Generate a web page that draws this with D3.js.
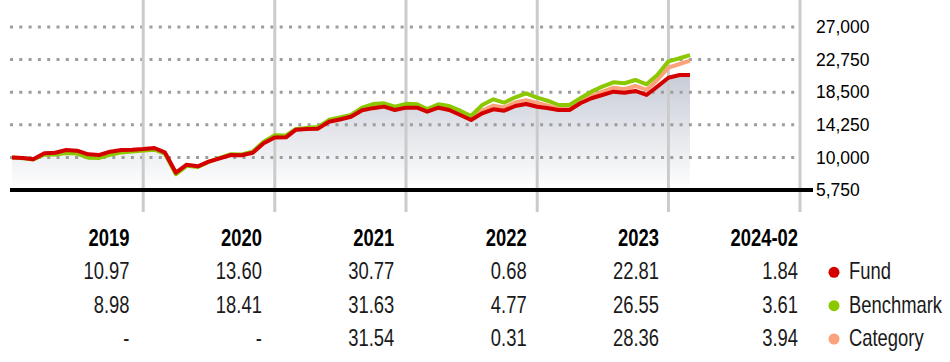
<!DOCTYPE html>
<html>
<head>
<meta charset="utf-8">
<script src="https://cdn.jsdelivr.net/npm/d3@7"></script>
<style>
  body { margin: 0; background: #fff; }
  svg { display: block; }
  text { font-family: "Liberation Sans", Arial, sans-serif; }
</style>
</head>
<body>
<svg width="950" height="362"></svg>
<script>
// growth of 10,000 - monthly points, first point = start of 2019
var fundValues = [10000, 9922, 9760, 10535, 10613, 10965, 10874, 10404, 10313, 10743, 10965, 11004,
    11097, 11226, 10665, 8005, 9048, 8839, 9439, 9883, 10313, 10274, 10613, 11839,
    12606, 12620, 13620, 13700, 13750, 14650, 14950, 15300, 16150, 16420, 16620, 16181,
    16485, 16481, 15959, 16481, 16181, 15529, 14877, 15751, 16272, 16090, 16703, 16963,
    16597, 16403, 16181, 16181, 17055, 17707, 18137, 18567, 18437, 18659, 18137, 19219,
    20383, 20745, 20758];
var benchmarkValues = [10000, 9900, 9740, 10350, 10380, 10560, 10500, 9960, 9930, 10330, 10650, 10760,
    10898, 11000, 10500, 7800, 8900, 8750, 9420, 9950, 10420, 10380, 10760, 12050,
    12904, 12850, 13700, 13850, 13950, 14900, 15200, 15530, 16500, 16950, 17050, 16600,
    16986, 16924, 16311, 16924, 16703, 16090, 15399, 16833, 17576, 17133, 17837, 18359,
    17796, 17355, 16833, 16833, 17707, 18567, 19219, 19793, 19663, 20093, 19532, 20745,
    22521, 22922, 23334];
var categoryValues = [null, null, null, null, null, null, null, null, null, null, null, null,
    null, null, null, null, null, null, null, null, null, null, null, null,
    12700, 12650, 13640, 13730, 13800, 14700, 15000, 15350, 16250, 16600, 16800, 16400,
    16850, 16780, 16150, 16750, 16450, 15750, 14950, 16100, 16750, 16500, 17150, 17450,
    17094, 16742, 16311, 16311, 17224, 18007, 18528, 19089, 18880, 19311, 18789, 20093,
    21700, 22179, 22610];

var yTicks = [5750, 10000, 14250, 18500, 22750, 27000];
var gridYears = [2020, 2021, 2022, 2023, 2024, 2025];

// calendar returns table
var periods = ['2019', '2020', '2021', '2022', '2023', '2024-02'];
var fundReturns = ['10.97', '13.60', '30.77', '0.68', '22.81', '1.84'];
var benchmarkReturns = ['8.98', '18.41', '31.63', '4.77', '26.55', '3.61'];
var categoryReturns = ['-', '-', '31.54', '0.31', '28.36', '3.94'];
var seriesNames = ['Fund', 'Benchmark', 'Category'];
var seriesColors = ['#d40000', '#8cc800', '#fca27a'];

var dates = d3.timeMonth.range(new Date(2019, 0, 1), new Date(2024, 2, 2));

var svg = d3.select('svg');

var xScale = d3.scaleTime()
    .domain([new Date(2019, 0, 1), new Date(2025, 0, 1)])
    .range([12, 800]);
var yScale = d3.scaleLinear()
    .domain([5750, 27000])
    .range([190, 27]);

// gradient for the area under the fund
var defs = svg.append('defs');
var grad = defs.append('linearGradient')
    .attr('id', 'areaGrad')
    .attr('gradientUnits', 'userSpaceOnUse')
    .attr('x1', 0).attr('x2', 0)
    .attr('y1', yScale(22000)).attr('y2', yScale(5750));
grad.append('stop').attr('offset', 0).attr('stop-color', '#c3c8d3');
grad.append('stop').attr('offset', 1).attr('stop-color', '#ffffff');

var area = d3.area()
    .x(function(d, i) { return xScale(dates[i]); })
    .y0(yScale(5750))
    .y1(function(d) { return yScale(d); });

svg.append('path')
    .datum(fundValues)
    .attr('d', area)
    .attr('fill', 'url(#areaGrad)');

// horizontal dotted gridlines
svg.append('g').selectAll('line')
    .data(yTicks.slice(1))
    .enter().append('line')
    .attr('x1', 10).attr('x2', 795)
    .attr('y1', function(d) { return yScale(d); })
    .attr('y2', function(d) { return yScale(d); })
    .attr('stroke', '#9d9d9d')
    .attr('stroke-width', 3)
    .attr('stroke-dasharray', '3,6.3');

// vertical year lines
svg.append('g').selectAll('line')
    .data(gridYears)
    .enter().append('line')
    .attr('x1', function(d) { return xScale(new Date(d, 0, 1)); })
    .attr('x2', function(d) { return xScale(new Date(d, 0, 1)); })
    .attr('y1', 0).attr('y2', 212)
    .attr('stroke', '#cbcbcb')
    .attr('stroke-width', 3);

// baseline
svg.append('line')
    .attr('x1', 10).attr('x2', 813)
    .attr('y1', yScale(5750)).attr('y2', yScale(5750))
    .attr('stroke', '#000')
    .attr('stroke-width', 4);

// y axis labels on the right
var yAxis = d3.axisRight(yScale)
    .tickValues(yTicks)
    .tickSize(0)
    .tickPadding(0)
    .tickFormat(d3.format(','));
var yAxisG = svg.append('g')
    .attr('transform', 'translate(816,0)')
    .call(yAxis);
yAxisG.select('.domain').remove();
yAxisG.selectAll('text')
    .attr('font-family', '"Liberation Sans", Arial, sans-serif')
    .attr('font-size', 17.5)
    .attr('fill', '#000');

// lines: category, benchmark, then fund on top
var line = d3.line()
    .defined(function(d) { return d != null; })
    .x(function(d, i) { return xScale(dates[i]); })
    .y(function(d) { return yScale(d); });

[categoryValues, benchmarkValues, fundValues].forEach(function(vals, k) {
    svg.append('path')
        .datum(vals)
        .attr('d', line)
        .attr('fill', 'none')
        .attr('stroke', [seriesColors[2], seriesColors[1], seriesColors[0]][k])
        .attr('stroke-width', 4)
        .attr('stroke-linejoin', 'round');
});

// table of returns (condensed look: squeeze text horizontally)
var squeeze = 0.8;
var colX = d3.scaleLinear().domain([0, 4]).range([129.5, 659]);
function colPos(i) { return i < 5 ? colX(i) : 798; }
var rowY = d3.scaleLinear().domain([0, 3]).range([246, 346]);

var table = svg.append('g');

function cell(x, y, txt, bold, anchor) {
    table.append('g')
        .attr('transform', 'translate(' + x + ',' + y + ') scale(' + squeeze + ',1)')
        .append('text')
        .attr('text-anchor', anchor || 'end')
        .attr('font-size', 23)
        .attr('font-weight', bold ? 'bold' : 'normal')
        .attr('fill', bold ? '#000' : '#1a1a1a')
        .text(txt);
}

periods.forEach(function(p, i) { cell(colPos(i), rowY(0), p, true); });
[fundReturns, benchmarkReturns, categoryReturns].forEach(function(row, r) {
    row.forEach(function(v, i) { cell(colPos(i), rowY(r + 1), v, false); });
});

// legend
seriesNames.forEach(function(name, i) {
    table.append('circle')
        .attr('cx', 834)
        .attr('cy', rowY(i + 1) - 7)
        .attr('r', 5.5)
        .attr('fill', seriesColors[i]);
    cell(849, rowY(i + 1), name, false, 'start');
});
</script>
</body>
</html>
